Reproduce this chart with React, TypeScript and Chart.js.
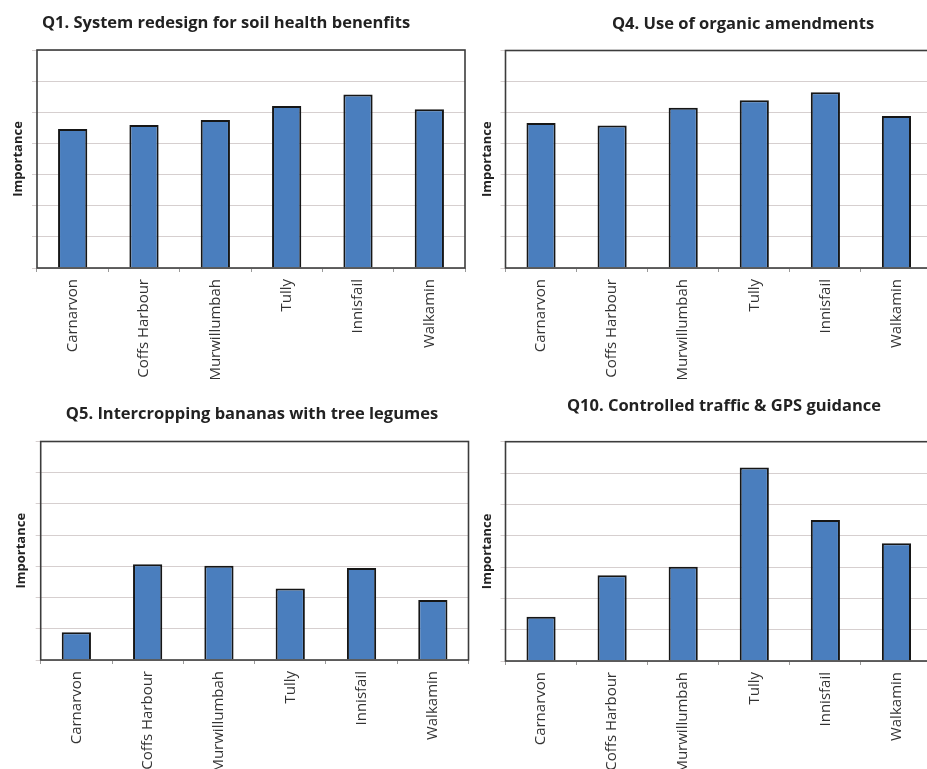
import React, { useEffect, useRef } from "react";
import { Chart, registerables } from "chart.js";

Chart.register(...registerables);

// ---- Data ----
const categories = ["Carnarvon", "Coffs Harbour", "Murwillumbah", "Tully", "Innisfail", "Walkamin"];
const q1Values = [4.46, 4.59, 4.75, 5.2, 5.57, 5.1];
const q4Values = [4.67, 4.59, 5.16, 5.4, 5.66, 4.89];
const q5Values = [0.89, 3.07, 3.02, 2.29, 2.95, 1.92];
const q10Values = [1.41, 2.74, 3.01, 6.18, 4.5, 3.76];
const q1Title = "Q1. System redesign for soil health benenfits";
const q4Title = "Q4. Use of organic amendments";
const q5Title = "Q5. Intercropping bananas with tree legumes";
const q10Title = "Q10. Controlled traffic & GPS guidance";
const yAxisTitle = "Importance";
const yMin = 0;
const yMax = 7;
const yStep = 1;

// ---- Styles ----
const FONT = "'Open Sans', 'Noto Sans', sans-serif";
const BAR_FILL = "#4A7EBE";
const BAR_EDGE = "#161616";
const GRID = "#d6cfcf";
const FRAME = "#3c3c3c";

type Layout = {
  left: number;
  top: number;
  width: number;
  height: number;
  area: { l: number; t: number; r: number; b: number };
  titleX: number;
  titleY: number;
  yTitleX: number;
};

const titlePlugin = {
  id: "panelTitle",
  afterDraw(chart: any, _args: any, opts: any) {
    const ctx = chart.ctx;
    ctx.save();
    ctx.font = `bold 16.5px ${FONT}`;
    ctx.fillStyle = "#222";
    ctx.textAlign = "center";
    ctx.textBaseline = "middle";
    ctx.fillText(opts.text, opts.x, opts.y);
    ctx.restore();
  },
};

const framePlugin = {
  id: "plotFrame",
  afterDatasetsDraw(chart: any) {
    const { ctx, chartArea } = chart;
    ctx.save();
    ctx.strokeStyle = FRAME;
    ctx.lineWidth = 1.6;
    ctx.strokeRect(chartArea.left, chartArea.top, chartArea.right - chartArea.left, chartArea.bottom - chartArea.top);
    ctx.restore();
  },
};

function Panel({ title, values, layout }: { title: string; values: number[]; layout: Layout }) {
  const ref = useRef<HTMLCanvasElement | null>(null);
  useEffect(() => {
    if (!ref.current) return;
    const { area, width, height } = layout;
    const yTitleSize = 13;
    const chart = new Chart(ref.current, {
      type: "bar",
      data: {
        labels: categories,
        datasets: [
          {
            data: values,
            backgroundColor: BAR_FILL,
            borderColor: BAR_EDGE,
            borderWidth: 2,
            barPercentage: 0.41,
            categoryPercentage: 1,
          },
        ],
      },
      options: {
        animation: false,
        responsive: false,
        maintainAspectRatio: false,
        layout: { padding: { top: area.t, right: width - area.r, left: 0, bottom: 0 } },
        plugins: {
          legend: { display: false },
          tooltip: { enabled: false },
          title: { display: false },
          panelTitle: { text: title, x: layout.titleX, y: layout.titleY },
        } as any,
        scales: {
          x: {
            grid: { display: true, drawOnChartArea: false, drawTicks: true, tickLength: 4, color: "#9a9a9a", offset: true },
            border: { display: false },
            ticks: {
              autoSkip: false,
              minRotation: 90,
              maxRotation: 90,
              padding: 7,
              color: "#333",
              font: { family: FONT, size: 15 },
            },
            afterFit: (s: any) => {
              s.height = height - area.b;
            },
          },
          y: {
            min: yMin,
            max: yMax,
            ticks: { stepSize: yStep, display: false },
            grid: { color: GRID, lineWidth: 1, drawTicks: true, tickLength: 5 },
            border: { display: false },
            title: {
              display: true,
              text: yAxisTitle,
              color: "#222",
              font: { family: FONT, size: yTitleSize, weight: "bold" },
              padding: { top: layout.yTitleX - (yTitleSize * 1.2) / 2, bottom: 0 },
            },
            afterFit: (s: any) => {
              s.width = area.l;
            },
          },
        },
      } as any,
      plugins: [titlePlugin, framePlugin],
    });
    return () => chart.destroy();
  }, [title, values, layout]);

  return (
    <canvas
      ref={ref}
      width={layout.width}
      height={layout.height}
      style={{
        position: "absolute",
        left: layout.left,
        top: layout.top,
        width: layout.width,
        height: layout.height,
      }}
    />
  );
}

const q1Layout: Layout = { left: 0, top: 0, width: 470, height: 390, area: { l: 37, t: 50, r: 465, b: 268 }, titleX: 226, titleY: 23, yTitleX: 18 };
const q4Layout: Layout = { left: 470, top: 0, width: 470, height: 390, area: { l: 35.5, t: 50.5, r: 462, b: 268 }, titleX: 273, titleY: 24, yTitleX: 17 };
const q5Layout: Layout = { left: 0, top: 390, width: 470, height: 379, area: { l: 40.7, t: 51.5, r: 468.5, b: 270 }, titleX: 252, titleY: 24, yTitleX: 21 };
const q10Layout: Layout = { left: 470, top: 390, width: 470, height: 379, area: { l: 35.5, t: 51.7, r: 462, b: 271 }, titleX: 254, titleY: 16, yTitleX: 17 };

export default function App() {
  return (
    <div
      style={{
        position: "absolute",
        left: 0,
        top: 0,
        width: 927,
        height: 769,
        overflow: "hidden",
        background: "#fff",
      }}
    >
      <Panel title={q1Title} values={q1Values} layout={q1Layout} />
      <Panel title={q4Title} values={q4Values} layout={q4Layout} />
      <Panel title={q5Title} values={q5Values} layout={q5Layout} />
      <Panel title={q10Title} values={q10Values} layout={q10Layout} />
    </div>
  );
}
